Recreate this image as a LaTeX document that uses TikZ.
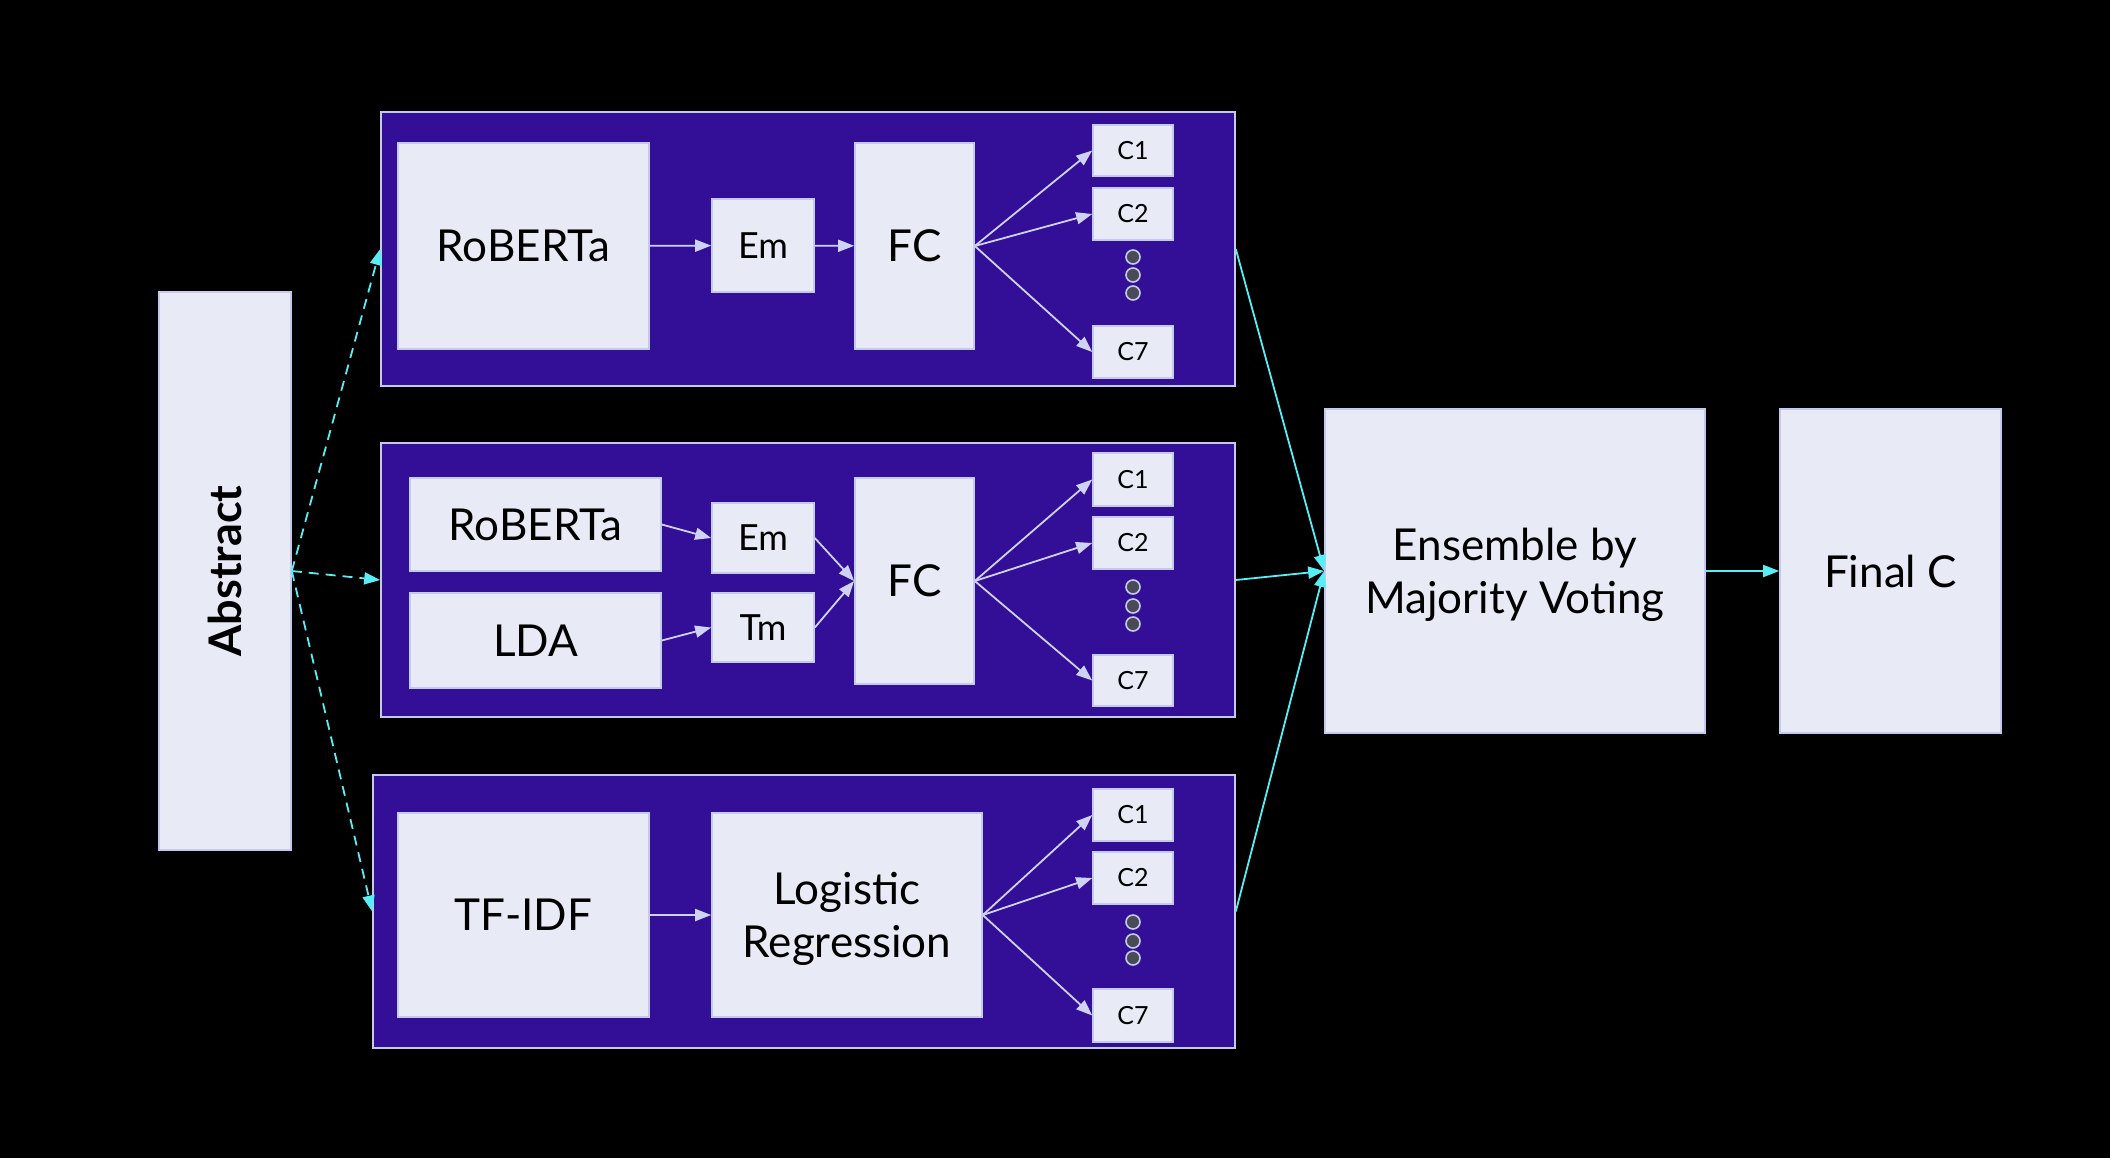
\documentclass[tikz,border=0pt]{standalone}
\usepackage{fontspec}
\setmainfont{Lato}
\usetikzlibrary{arrows.meta,fit}
\definecolor{grp}{RGB}{51,14,150}
\definecolor{boxf}{RGB}{232,234,246}
\definecolor{bord}{RGB}{196,202,238}
\definecolor{inarr}{RGB}{206,211,244}
\definecolor{cyanl}{RGB}{88,238,246}
\definecolor{dotf}{RGB}{74,74,86}
\begin{document}
\begin{tikzpicture}[x=0.5pt,y=-0.5pt,
  box/.style={draw=bord, fill=boxf, line width=0.8pt, inner sep=0pt, text=black, align=center},
  grpbox/.style={draw=bord, fill=grp, line width=0.8pt, inner sep=0pt},
  bigt/.style={font=\fontsize{22}{26.5}\selectfont},
  midt/.style={font=\fontsize{18}{21}\selectfont},
  smt/.style={font=\fontsize{12.5}{15}\selectfont},
  dotc/.style={circle, draw=bord, fill=dotf, line width=0.8pt, minimum size=7pt, inner sep=0pt},
  inarrow/.style={draw=inarr, line width=0.9pt, -{Triangle[length=8pt,width=6pt]}},
  cyarrow/.style={draw=cyanl, line width=0.9pt, -{Triangle[length=8pt,width=6pt]}},
  cydash/.style={cyarrow, dash pattern=on 5pt off 3.5pt}]
\fill[black] (0,0) rectangle (2110,1158);
\useasboundingbox (0,0) rectangle (2110,1158);

% groups
\node[grpbox, fit={(381,112)(1235,386)}] (g1) {};
\node[grpbox, fit={(381,443)(1235,717)}] (g2) {};
\node[grpbox, fit={(373,775)(1235,1048)}] (g3) {};

% abstract
\node[box, fit={(159,292)(291,850)}] (abs) {};
\node[font=\fontsize{22.5}{26}\selectfont\bfseries, rotate=90] (abst) at (abs.center) {Abstract};

% group 1
\node[box, fit={(398,143)(649,349)}] (r1) {};
\node[bigt] (r1t) at (r1.center) {RoBERTa};
\node[box, fit={(712,199)(814,292)}] (e1) {};
\node[midt] (e1t) at (e1.center) {Em};
\node[box, fit={(855,143)(974,349)}] (f1) {};
\node[bigt] (f1t) at (f1.center) {FC};
\node[box, fit={(1093,125)(1173,176)}] (a1) {};
\node[smt] (a1t) at (a1.center) {C1};
\node[box, fit={(1093,188)(1173,240)}] (b1) {};
\node[smt] (b1t) at (b1.center) {C2};
\node[box, fit={(1093,326)(1173,378)}] (c1) {};
\node[smt] (c1t) at (c1.center) {C7};
\node[dotc] (d11) at (1133,257) {};
\node[dotc] (d12) at (1133,275) {};
\node[dotc] (d13) at (1133,293) {};

% group 2
\node[box, fit={(410,478)(661,571)}] (r2) {};
\node[bigt] (r2t) at (r2.center) {RoBERTa};
\node[box, fit={(410,593)(661,688)}] (l2) {};
\node[bigt] (l2t) at (l2.center) {LDA};
\node[box, fit={(712,503)(814,573)}] (e2) {};
\node[midt] (e2t) at (e2.center) {Em};
\node[box, fit={(712,593)(814,662)}] (t2) {};
\node[midt] (t2t) at (t2.center) {Tm};
\node[box, fit={(855,478)(974,684)}] (f2) {};
\node[bigt] (f2t) at (f2.center) {FC};
\node[box, fit={(1093,453)(1173,506)}] (a2) {};
\node[smt] (a2t) at (a2.center) {C1};
\node[box, fit={(1093,517)(1173,569)}] (b2) {};
\node[smt] (b2t) at (b2.center) {C2};
\node[box, fit={(1093,655)(1173,706)}] (c2) {};
\node[smt] (c2t) at (c2.center) {C7};
\node[dotc] (d21) at (1133,587) {};
\node[dotc] (d22) at (1133,606) {};
\node[dotc] (d23) at (1133,624) {};

% group 3
\node[box, fit={(398,813)(649,1017)}] (tf) {};
\node[bigt] (tft) at (tf.center) {TF-IDF};
\node[box, fit={(712,813)(982,1017)}] (lr) {};
\node[bigt, align=center] (lrt) at ([yshift=-2pt]lr.center) {Logistic\\Regression};
\node[box, fit={(1093,789)(1173,841)}] (a3) {};
\node[smt] (a3t) at (a3.center) {C1};
\node[box, fit={(1093,852)(1173,904)}] (b3) {};
\node[smt] (b3t) at (b3.center) {C2};
\node[box, fit={(1093,989)(1173,1042)}] (c3) {};
\node[smt] (c3t) at (c3.center) {C7};
\node[dotc] (d31) at (1133,922) {};
\node[dotc] (d32) at (1133,941) {};
\node[dotc] (d33) at (1133,958) {};

% ensemble and final
\node[box, fit={(1325,409)(1705,733)}] (ens) {};
\node[bigt, align=center] (enst) at ([yshift=-2pt]ens.center) {Ensemble by\\Majority Voting};
\node[box, fit={(1780,409)(2001,733)}] (fin) {};
\node[bigt] (fint) at (fin.center) {Final C};

% internal arrows
\draw[inarrow] (r1) -- (e1);
\draw[inarrow] (e1) -- (f1);
\draw[inarrow] (f1.east) -- (a1.west);
\draw[inarrow] (f1.east) -- (b1.west);
\draw[inarrow] (f1.east) -- (c1.west);

\draw[inarrow] (r2.east) -- (e2.west);
\draw[inarrow] (l2.east) -- (t2.west);
\draw[inarrow] (e2.east) -- (f2.west);
\draw[inarrow] (t2.east) -- (f2.west);
\draw[inarrow] (f2.east) -- (a2.west);
\draw[inarrow] (f2.east) -- (b2.west);
\draw[inarrow] (f2.east) -- (c2.west);

\draw[inarrow] (tf) -- (lr);
\draw[inarrow] (lr.east) -- (a3.west);
\draw[inarrow] (lr.east) -- (b3.west);
\draw[inarrow] (lr.east) -- (c3.west);

% cyan arrows
\draw[cydash] (abs.east) -- (g1.west);
\draw[cydash] (abs.east) -- (g2.west);
\draw[cydash] (abs.east) -- (g3.west);
\draw[cyarrow] (g1.east) -- (ens.west);
\draw[cyarrow] (g2.east) -- (ens.west);
\draw[cyarrow] (g3.east) -- (ens.west);
\draw[cyarrow] (ens) -- (fin);
\end{tikzpicture}
\end{document}
